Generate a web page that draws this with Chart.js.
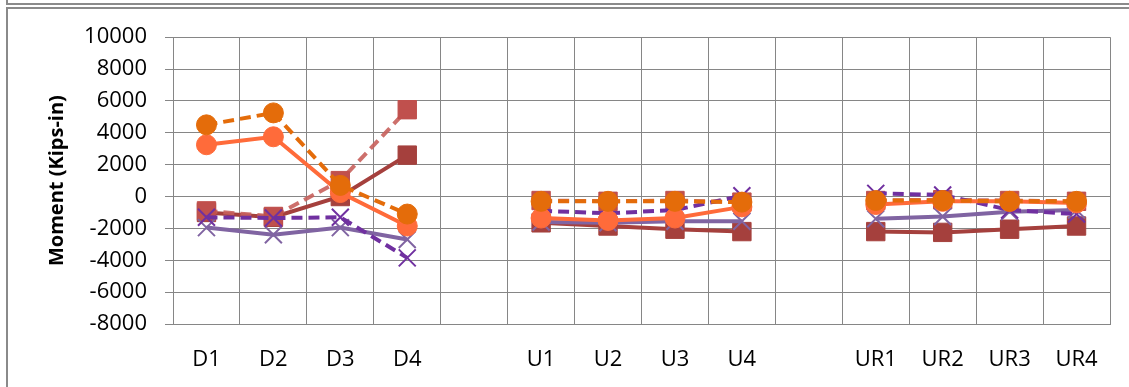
<!DOCTYPE html>
<html lang="en">
<head>
<meta charset="UTF-8">
<title>Moment chart</title>
<script src="https://cdn.jsdelivr.net/npm/chart.js"></script>
<style>
  body { margin: 0; background: #fff; overflow: hidden; }
  .above { position: absolute; left: 6px; top: -20px; width: 1140px; height: 21px; border: 2px solid #8a8a8a; }
  .frame { position: absolute; left: 6px; top: 7px; width: 1140px; height: 400px; border: 2px solid #8a8a8a; }
  #momentChart { position: absolute; left: 8px; top: 6px; }
</style>
</head>
<body>
<div class="above"></div>
<div class="frame"></div>
<canvas id="momentChart" width="1121" height="381"></canvas>
<script>
  // categories, blank entries are the gaps between groups
  const labels = ['D1', 'D2', 'D3', 'D4', '', 'U1', 'U2', 'U3', 'U4', '', 'UR1', 'UR2', 'UR3', 'UR4'];

  const orangeDashed = [4500, 5250, 700, -1100, null, -300, -300, -300, -350, null, -250, -250, -300, -300];
  const orangeSolid = [3250, 3750, 250, -1850, null, -1350, -1500, -1350, -650, null, -500, -300, -300, -400];
  const purpleDashed = [-1300, -1350, -1300, -3850, null, -900, -1050, -850, 50, null, 200, 100, -850, -1100];
  const purpleSolid = [-1950, -2400, -1950, -2700, null, -1600, -1650, -1550, -1550, null, -1400, -1250, -950, -850];
  const redDashed = [-900, -1250, 1000, 5450, null, -250, -300, -250, -350, null, -250, -200, -250, -300];
  const redSolid = [-1000, -1300, 0, 2600, null, -1650, -1850, -2050, -2200, null, -2200, -2250, -2050, -1850];

  const yTicks = [-8000, -6000, -4000, -2000, 0, 2000, 4000, 6000, 8000, 10000];

  const gridColor = '#868686';
  const font = '"Open Sans", sans-serif';

  function series(data, color, style, dashed, markerColor) {
    const radius = { rect: 13, crossRot: 12, circle: 10 };
    return {
      data: data,
      borderColor: color,
      backgroundColor: markerColor || color,
      borderWidth: 4,
      borderDash: dashed ? [11, 6] : [],
      pointStyle: style,
      pointRadius: radius[style],
      pointBorderColor: markerColor || color,
      pointBackgroundColor: markerColor || color,
      pointBorderWidth: style === 'crossRot' ? 2 : 1,
      spanGaps: false,
      tension: 0
    };
  }

  const ctx = document.getElementById('momentChart').getContext('2d');
  new Chart(ctx, {
    type: 'line',
    data: {
      labels: labels,
      datasets: [
        series(orangeDashed, '#E46C0A', 'circle', true),
        series(orangeSolid, '#FF6B3A', 'circle', false),
        series(purpleDashed, '#7030A0', 'crossRot', true),
        series(purpleSolid, '#8064A2', 'crossRot', false),
        series(redDashed, 'rgba(200,96,92,0.9)', 'rect', true, '#C0504D'),
        series(redSolid, '#A5403D', 'rect', false)
      ]
    },
    options: {
      responsive: false,
      animation: false,
      layout: { padding: { top: 24, right: 19, left: 0, bottom: 0 } },
      plugins: { legend: { display: false }, tooltip: { enabled: false } },
      scales: {
        x: {
          offset: true,
          grid: { offset: true, color: gridColor, lineWidth: 1, drawTicks: false },
          border: { color: gridColor, width: 1 },
          ticks: { color: '#000', font: { family: font, size: 22 }, padding: 23, autoSkip: false, maxRotation: 0 },
          afterFit: function (s) { s.height = 63; }
        },
        y: {
          min: -8000,
          max: 10000,
          afterBuildTicks: function (s) { s.ticks = yTicks.map(v => ({ value: v })); },
          grid: { color: gridColor, lineWidth: 1, tickLength: 8 },
          border: { color: gridColor, width: 1 },
          ticks: { color: '#000', font: { family: font, size: 22 }, padding: 18, callback: v => String(v) },
          title: {
            display: true,
            text: 'Moment (Kips-in)',
            color: '#000',
            font: { family: font, size: 20, weight: 'bold' },
            padding: { top: 37, bottom: 0 }
          },
          afterFit: function (s) { s.width = 165; }
        }
      }
    }
  });
</script>
</body>
</html>
